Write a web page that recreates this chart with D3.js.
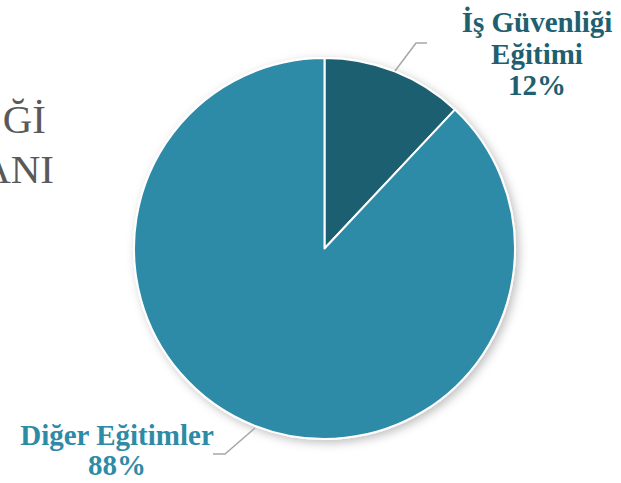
<!DOCTYPE html>
<html><head><meta charset="utf-8">
<script src="https://cdn.jsdelivr.net/npm/d3@7"></script>
<style>body{margin:0;background:#fff;}svg{display:block;}</style>
</head><body>
<svg id="c" width="621" height="483"></svg>
<script>
const categories = ["İş Güvenliği Eğitimi", "Diğer Eğitimler"];
const values = [12, 88];
const labelLines = [["İş Güvenliği", "Eğitimi", "12%"], ["Diğer Eğitimler", "88%"]];
const colors = ["#1e5f70", "#2e8ba7"];
const titleLines = ["Ğİ", "ANI"];

const svg = d3.select("#c");
const cx = 324.5, cy = 248.5, r = 190.5;

const defs = svg.append("defs");
const f = defs.append("filter").attr("id", "sh").attr("x", "-20%").attr("y", "-20%").attr("width", "140%").attr("height", "140%");
f.append("feDropShadow").attr("dx", 3).attr("dy", 3).attr("stdDeviation", 5).attr("flood-color", "#000").attr("flood-opacity", 0.25);

// title fragments (visible part of a title running off the left edge)
svg.append("text").attr("x", 46).attr("y", 133).attr("text-anchor", "end")
  .attr("font-family", "Liberation Serif").attr("font-size", 41).attr("fill", "#595959")
  .text(titleLines[0]);
svg.append("text").attr("x", 54).attr("y", 183).attr("text-anchor", "end")
  .attr("font-family", "Liberation Serif").attr("font-size", 41).attr("fill", "#595959")
  .text(titleLines[1]);

const pie = d3.pie().sort(null).value(d => d)(values);
const arc = d3.arc().innerRadius(0).outerRadius(r);
const g = svg.append("g").attr("transform", `translate(${cx},${cy})`);
g.append("g").attr("filter", "url(#sh)").selectAll("path").data(pie).join("path")
  .attr("d", arc).attr("fill", (d, i) => colors[i])
  .attr("stroke", "#fff").attr("stroke-width", 2).attr("stroke-linejoin", "round");

// leader lines
const leaders = [
  {pts: [[395, 71], [416, 43], [427, 43]]},
  {pts: [[255, 428], [225, 454], [213, 454]]}
];
svg.selectAll("polyline.ld").data(leaders).join("polyline").attr("class", "ld")
  .attr("points", d => d.pts.map(p => p.join(",")).join(" "))
  .attr("fill", "none").attr("stroke", "#a6a6a6").attr("stroke-width", 1.5);

// labels
const lab = [
  {x: 537, y: 32, dy: 31.5},
  {x: 117, y: 445, dy: 29.5}
];
labelLines.forEach((lines, i) => {
  const t = svg.append("text").attr("text-anchor", "middle")
    .attr("font-family", "Liberation Serif").attr("font-weight", "bold")
    .attr("font-size", 29).attr("fill", colors[i]);
  lines.forEach((s, j) => t.append("tspan").attr("x", lab[i].x).attr("y", lab[i].y + j * lab[i].dy).text(s));
});
</script>
</body></html>
